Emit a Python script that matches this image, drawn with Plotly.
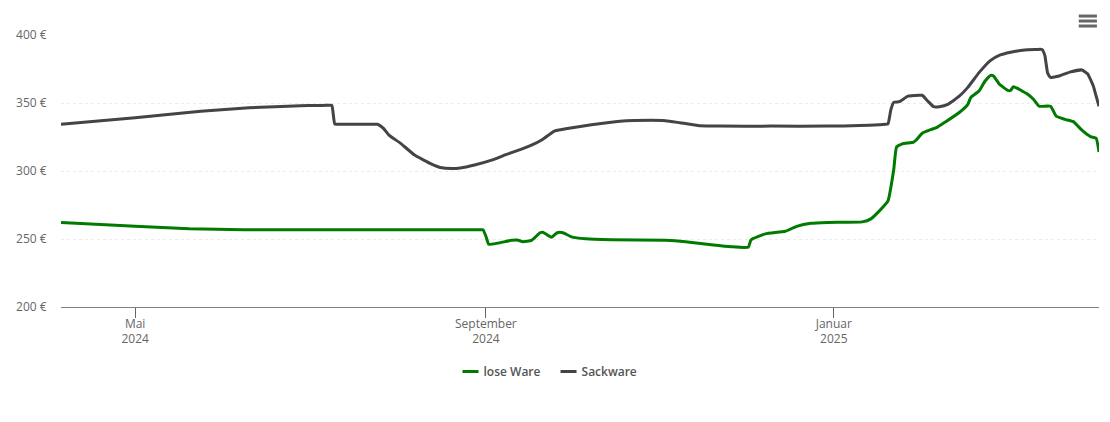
import plotly.graph_objects as go

sack_dates = ["2024-04-05","2024-05-01","2024-05-24","2024-06-10","2024-06-28","2024-07-04","2024-07-07","2024-07-08","2024-07-09","2024-07-10","2024-07-11","2024-07-13","2024-07-20","2024-07-24","2024-07-25","2024-07-27","2024-07-29","2024-08-02","2024-08-07","2024-08-13","2024-08-16","2024-08-20","2024-08-23","2024-08-28","2024-09-03","2024-09-08","2024-09-13","2024-09-17","2024-09-21","2024-09-25","2024-09-29","2024-10-08","2024-10-18","2024-10-29","2024-11-03","2024-11-08","2024-11-15","2024-11-22","2024-12-10","2024-12-30","2025-01-10","2025-01-17","2025-01-19","2025-01-20","2025-01-21","2025-01-22","2025-01-24","2025-01-27","2025-01-31","2025-02-01","2025-02-03","2025-02-05","2025-02-07","2025-02-10","2025-02-14","2025-02-17","2025-02-21","2025-02-25","2025-02-28","2025-03-04","2025-03-09","2025-03-13","2025-03-15","2025-03-16","2025-03-17","2025-03-18","2025-03-21","2025-03-25","2025-03-29","2025-03-31","2025-04-02","2025-04-03","2025-04-04"]
sack_values = [334.4,339.2,344,346.5,348,348.2,348.3,348.3,348.2,334.4,334.4,334.4,334.4,334.4,334.4,331.5,326.4,320.5,311.7,305,302.6,301.8,302.2,304.4,308,312,315.7,319,323.4,329.3,331,334,336.6,337.3,337,335.5,333.3,333,333,333,333.4,334,334.3,334.6,345,350.5,351,355,355.7,355.7,351.3,347.3,347.3,349,355,361.5,372.5,381.3,385,387.3,389,389.3,389.4,385,372,368.9,369.8,372.9,374.3,371.5,362.5,355,347.6]

lose_dates = ["2024-04-05","2024-05-01","2024-05-20","2024-06-08","2024-07-01","2024-08-01","2024-08-20","2024-08-28","2024-08-30","2024-08-31","2024-09-01","2024-09-02","2024-09-05","2024-09-10","2024-09-12","2024-09-14","2024-09-17","2024-09-20","2024-09-21","2024-09-24","2024-09-26","2024-09-28","2024-10-01","2024-10-06","2024-10-15","2024-11-03","2024-11-10","2024-11-19","2024-11-26","2024-12-02","2024-12-03","2024-12-08","2024-12-15","2024-12-19","2024-12-24","2024-12-30","2025-01-11","2025-01-14","2025-01-17","2025-01-20","2025-01-22","2025-01-23","2025-01-25","2025-01-29","2025-01-30","2025-02-01","2025-02-04","2025-02-06","2025-02-09","2025-02-14","2025-02-17","2025-02-18","2025-02-21","2025-02-23","2025-02-25","2025-02-26","2025-02-27","2025-02-28","2025-03-03","2025-03-04","2025-03-05","2025-03-10","2025-03-12","2025-03-14","2025-03-18","2025-03-20","2025-03-23","2025-03-26","2025-03-29","2025-04-01","2025-04-03","2025-04-04"]
lose_values = [262.2,259.3,257.5,256.8,256.8,256.8,256.8,256.8,256.8,256.8,252,246.2,246.9,249,249.3,248,249,254.6,255,251.3,254.6,254.6,251.6,250.2,249.5,249,248,245.8,244.3,244,249.5,253.8,255.7,259.3,261.5,262.2,262.6,264.8,270.7,278,300.7,317.6,320,321.2,323,327.8,330.4,331.9,335.9,343,349,354,359,366,370.3,369.9,367,364,359.3,359.3,362,356.4,352.7,347.6,347.6,340.3,338,336.3,330,325.3,324,313.9]

tick_dates = ["2024-05-01","2024-09-01","2025-01-01"]
tick_labels = ["Mai<br>2024","September<br>2024","Januar<br>2025"]
y_ticks = [200,250,300,350,400]
y_labels = ["200 €","250 €","300 €","350 €","400 €"]

FONT = "Open Sans, sans-serif"
fig = go.Figure()
fig.add_trace(go.Scatter(x=lose_dates, y=lose_values, name="lose Ware", mode="lines",
    line=dict(color="#007a00", width=3, shape="spline", smoothing=0.4)))
fig.add_trace(go.Scatter(x=sack_dates, y=sack_values, name="Sackware", mode="lines",
    line=dict(color="#434348", width=3, shape="spline", smoothing=0.4)))

menu_shapes = [dict(type="line", xref="paper", yref="paper", x0=0.9805, x1=0.998, y0=y, y1=y,
                    line=dict(color="#666666", width=3)) for y in (1.0697, 1.0514, 1.033)]

fig.update_layout(
    width=1110, height=422, autosize=False,
    margin=dict(l=61, r=11, t=35, b=114.5),
    paper_bgcolor="white", plot_bgcolor="white",
    font=dict(family=FONT, size=12, color="#666666"),
    xaxis=dict(range=["2024-04-05","2025-04-04"], tickmode="array", tickvals=tick_dates, ticktext=tick_labels,
               ticks="outside", ticklen=10, tickwidth=1, tickcolor="#666666", showgrid=False,
               showline=True, linecolor="#808080", linewidth=1.2, zeroline=False, ticklabelstandoff=-5,
               tickfont=dict(size=12, color="#666666")),
    yaxis=dict(range=[200,400], tickmode="array", tickvals=y_ticks, ticktext=y_labels,
               showgrid=True, gridcolor="#ebebeb", griddash="dot", gridwidth=1, zeroline=False,
               ticks="outside", ticklen=11, tickcolor="rgba(0,0,0,0)", tickfont=dict(size=12, color="#666666")),
    legend=dict(orientation="h", x=0.5, xanchor="center", y=-0.233, yanchor="middle",
                font=dict(size=12, color="#555555", weight=600), itemwidth=30),
    shapes=menu_shapes,
    hovermode="x unified",
)
post = """
document.body.style.margin='0';
var lg=document.querySelector('.legend');
if(lg){
  var m=/translate\\(([-\\d.]+),\\s*([-\\d.]+)\\)/.exec(lg.getAttribute('transform'));
  if(m){lg.setAttribute('transform','translate('+(parseFloat(m[1])-35)+','+(parseFloat(m[2])+1)+')');}
  lg.querySelectorAll('.legendlines path').forEach(function(p){p.setAttribute('d','M19,0h16');});
  var it=lg.querySelectorAll('.traces');
  if(it.length>1){
    var n=/translate\\(([-\\d.]+),\\s*([-\\d.]+)\\)/.exec(it[1].getAttribute('transform'));
    if(n){it[1].setAttribute('transform','translate('+(parseFloat(n[1])-4)+','+n[2]+')');}
  }
}
"""
fig.write_html("out.html", config={"displayModeBar": False}, post_script=post)
